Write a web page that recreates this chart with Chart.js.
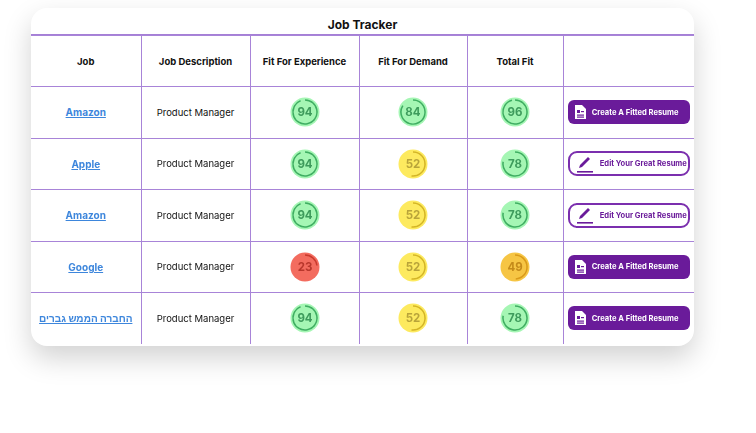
<!DOCTYPE html>
<html><head><meta charset="utf-8">
<script src="https://cdn.jsdelivr.net/npm/chart.js@4"></script>
<style>
body{margin:0;width:756px;height:433px;background:#fff;font-family:Inter,"Noto Sans",sans-serif;overflow:hidden}
#card{position:absolute;left:31px;top:8px;width:663px;height:338px;border-radius:16px;background:#fff;box-shadow:0 12px 28px rgba(0,0,0,0.18);overflow:hidden}
#title{height:26px;line-height:34px;text-align:center;font-weight:700;font-size:12px;color:#111;border-bottom:1.6px solid #a57fd6}
table{border-collapse:collapse;width:663px;table-layout:fixed}
td{border:1.6px solid #a884d8;height:50.5px;text-align:center;font-size:9.5px;color:#111;padding:0}
tr td:first-child{border-left:none} tr td:last-child{border-right:none}
tr:last-child td{border-bottom:none}
.h td{font-weight:700;height:50px}
a{color:#3d86dc;font-weight:700;text-decoration:underline;font-size:10px}
canvas{display:block;margin:auto}
.btn{display:inline-flex;align-items:center;box-sizing:border-box;width:122px;height:24px;border-radius:6px;font-size:7.6px;font-weight:700;padding-left:6px;gap:6px}
.fill{background:#6a1b9a;color:#fff}
.out{background:#fff;color:#6a1b9a;border:2px solid #7b2fae;height:25px;border-radius:9px}
</style></head><body>
<div id="card"><div id="title">Job Tracker</div><table id="t"></table></div>
<script>
const columns=["Job","Job Description","Fit For Experience","Fit For Demand","Total Fit",""];
const jobs=["Amazon","Apple","Amazon","Google","החברה הממש גברים"];
const descriptions=["Product Manager","Product Manager","Product Manager","Product Manager","Product Manager"];
const experience=[94,94,94,23,94];
const demand=[84,52,52,52,52];
const total=[96,78,78,49,78];
const actions=["Create A Fitted Resume","Edit  Your Great Resume","Edit  Your Great Resume","Create A Fitted Resume","Create A Fitted Resume"];
const widths=[110,109,109,108,96,131];

function pal(v){
  if(v>=60) return {bg:'#a5f6b4',arc:'#3fae62',txt:'#3e9b5c'};
  if(v>=50) return {bg:'#fdea5f',arc:'#d4b526',txt:'#b9a43a'};
  if(v>=40) return {bg:'#f6c544',arc:'#d99a1a',txt:'#c48a1a'};
  return {bg:'#f36c5f',arc:'#c93a2e',txt:'#b8372c'};
}
const t=document.getElementById('t');
let h='<colgroup>'+widths.map(w=>`<col style="width:${w}px">`).join('')+'</colgroup>';
h+='<tr class="h">'+columns.map(c=>`<td>${c}</td>`).join('')+'</tr>';
const gauges=[];
jobs.forEach((j,i)=>{
  const dir=/[\u0590-\u05FF]/.test(j)?' dir="rtl"':'';
  const fitted=actions[i].startsWith('Create');
  const icon=fitted?`<svg width="12" height="14" viewBox="0 0 12 14"><path d="M1 0h7l4 4v10H1z" fill="#fff"/><rect x="3" y="5" width="3" height="3" fill="#6a1b9a"/><rect x="7" y="6" width="3" height="1.2" fill="#6a1b9a"/><rect x="3" y="9.5" width="7" height="1.2" fill="#6a1b9a"/><rect x="3" y="11.5" width="7" height="1.2" fill="#6a1b9a"/></svg>`
   :`<svg width="18" height="18" viewBox="0 0 18 18"><path d="M3 13l1-3 8-8 2 2-8 8z" fill="#6a1b9a"/><rect x="1" y="16" width="16" height="1.6" fill="#6a1b9a"/></svg>`;
  h+=`<tr><td><a${dir}>${j}</a></td><td>${descriptions[i]}</td>`;
  [experience[i],demand[i],total[i]].forEach((v,k)=>{const id=`g${i}_${k}`;gauges.push([id,v]);h+=`<td><canvas id="${id}" width="32" height="32" style="width:32px;height:32px"></canvas></td>`;});
  h+=`<td><span class="btn ${fitted?'fill':'out'}">${icon}${actions[i]}</span></td></tr>`;
});
t.innerHTML=h;
const bgPlug={id:'bgc',beforeDatasetsDraw(c){const p=c.options.plugins.bgc;const m=c.getDatasetMeta(0).data[0];const x=m.x,y=m.y;const ctx=c.ctx;ctx.save();ctx.beginPath();ctx.arc(x,y,14.5,0,Math.PI*2);ctx.fillStyle=p.bg;ctx.fill();ctx.restore();},
 afterDatasetsDraw(c){const p=c.options.plugins.bgc;const m=c.getDatasetMeta(0).data[0];const ctx=c.ctx;ctx.save();ctx.fillStyle=p.txt;ctx.font='700 11.5px Inter';ctx.textAlign='center';ctx.textBaseline='middle';ctx.fillText(p.v,m.x,m.y+0.5);ctx.restore();}};
gauges.forEach(([id,v])=>{const p=pal(v);
 new Chart(document.getElementById(id),{type:'doughnut',plugins:[bgPlug],
  data:{datasets:[{data:[v,100-v],backgroundColor:[p.arc,'rgba(0,0,0,0)'],borderWidth:0,radius:'80%',cutout:'88%'}]},
  options:{responsive:false,animation:false,events:[],plugins:{legend:{display:false},tooltip:{enabled:false},bgc:{bg:p.bg,txt:p.txt,v}}}});
});
</script></body></html>
